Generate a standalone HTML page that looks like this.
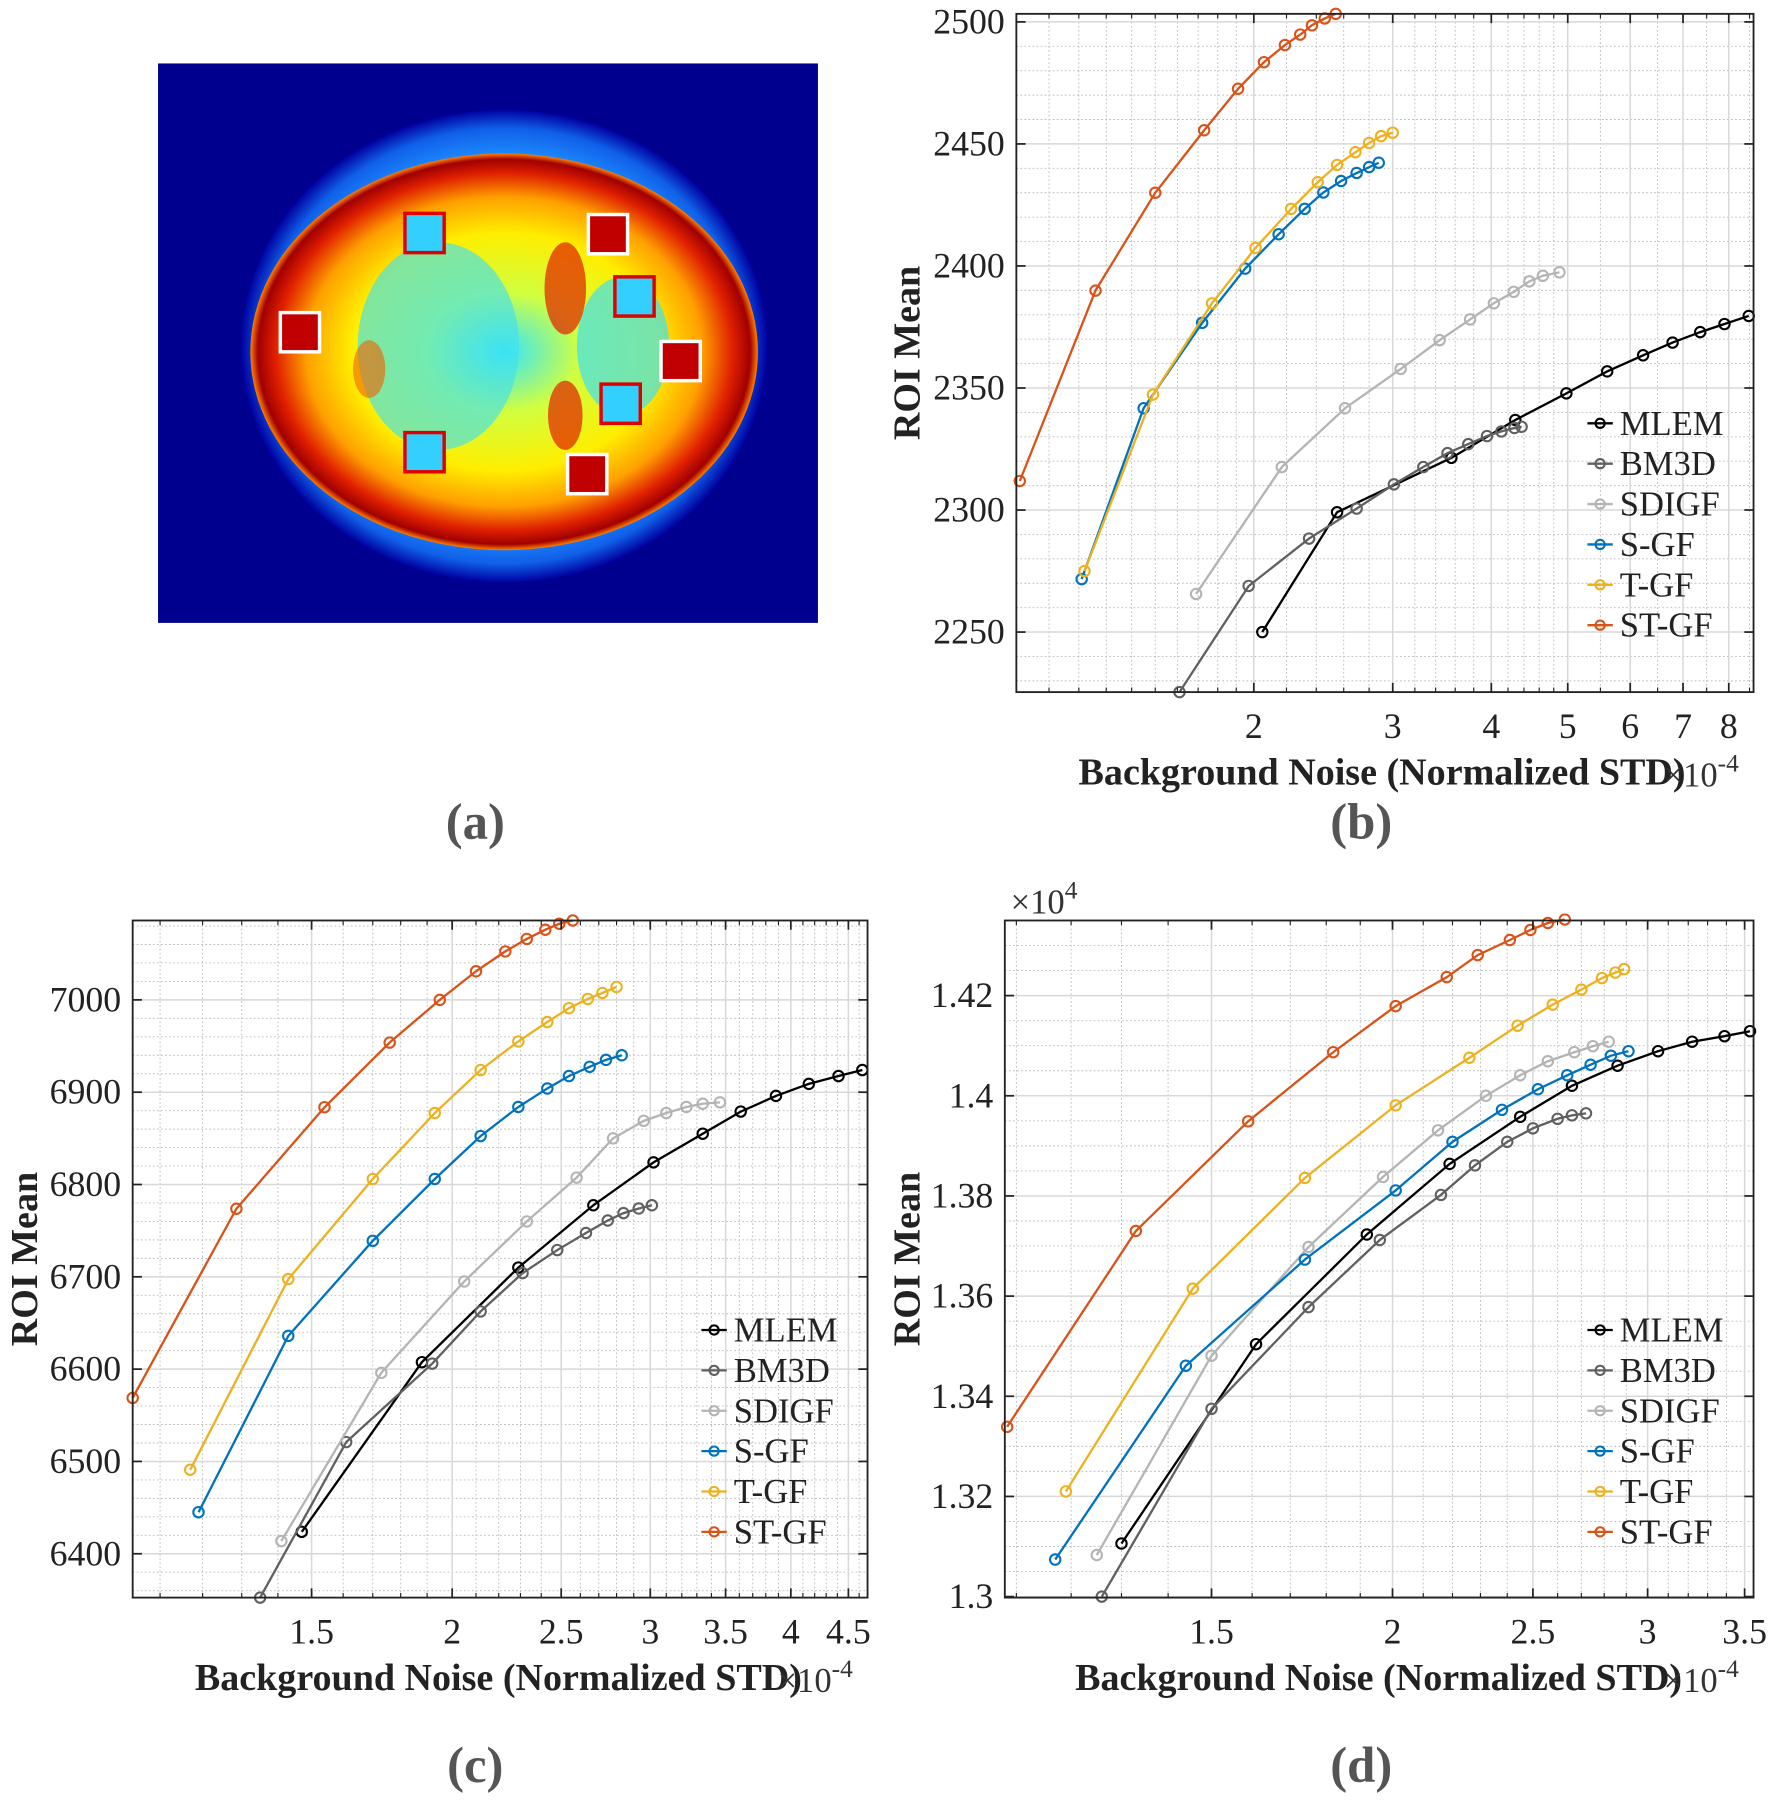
<!DOCTYPE html>
<html><head><meta charset="utf-8"><style>
html,body{margin:0;padding:0;background:#fff;}
svg{display:block;}
text{font-family:"Liberation Serif",serif;}
</style></head><body>
<svg id="fig" width="1772" height="1811" viewBox="0 0 1536 1570" preserveAspectRatio="none" xmlns="http://www.w3.org/2000/svg">
<defs>
<radialGradient id="halo" cx="50%" cy="50%" r="50%">
<stop offset="0.80" stop-color="#1e8cff"/><stop offset="0.92" stop-color="#1060e8"/><stop offset="1" stop-color="#0000a0"/>
</radialGradient>
<radialGradient id="brain" cx="50%" cy="50%" r="50%">
<stop offset="0" stop-color="#33e6ff"/><stop offset="0.3" stop-color="#d0ff40"/><stop offset="0.6" stop-color="#ffee00"/><stop offset="0.78" stop-color="#ffa000"/><stop offset="0.9" stop-color="#e02000"/><stop offset="0.97" stop-color="#a00000"/><stop offset="1" stop-color="#ff8000"/>
</radialGradient>
</defs>
<g id="panel-a">
<rect x="137" y="55" width="572" height="485" fill="#00008f"/>
<ellipse cx="437" cy="300" rx="228" ry="205" fill="url(#halo)"/>
<ellipse cx="437" cy="305" rx="220" ry="172" fill="url(#brain)"/>
<ellipse cx="380" cy="300" rx="70" ry="90" fill="#40e0f0" opacity="0.65"/>
<ellipse cx="540" cy="300" rx="40" ry="60" fill="#40e0f0" opacity="0.7"/>
<ellipse cx="490" cy="250" rx="18" ry="40" fill="#e02000" opacity="0.7"/>
<ellipse cx="490" cy="360" rx="15" ry="30" fill="#e02000" opacity="0.7"/>
<ellipse cx="320" cy="320" rx="14" ry="25" fill="#f06000" opacity="0.6"/>
<g fill="none" stroke-width="3">
<rect x="351" y="185" width="34" height="34" stroke="#e00000" fill="#33d0ff"/>
<rect x="533" y="240" width="34" height="34" stroke="#e00000" fill="#33d0ff"/>
<rect x="521" y="333" width="34" height="34" stroke="#e00000" fill="#33d0ff"/>
<rect x="351" y="375" width="34" height="34" stroke="#e00000" fill="#33d0ff"/>
<rect x="510" y="186" width="34" height="34" stroke="#fff" fill="#c00000"/>
<rect x="243" y="271" width="34" height="34" stroke="#fff" fill="#c00000"/>
<rect x="573" y="296" width="34" height="34" stroke="#fff" fill="#c00000"/>
<rect x="492" y="394" width="34" height="34" stroke="#fff" fill="#c00000"/>
</g>
</g>
<text x="412" y="727" font-size="44" font-weight="bold" fill="#555" text-anchor="middle">(a)</text>
<text x="1180" y="727" font-size="44" font-weight="bold" fill="#555" text-anchor="middle">(b)</text>
<text x="412" y="1545" font-size="44" font-weight="bold" fill="#555" text-anchor="middle">(c)</text>
<text x="1180" y="1545" font-size="44" font-weight="bold" fill="#555" text-anchor="middle">(d)</text>
</svg>
<script>
const seriesNames = ["MLEM","BM3D","SDIGF","S-GF","T-GF","ST-GF"];
const seriesColors = ["#000000","#606060","#b4b4b4","#0072BD","#EDB120","#D95319"];

// Panel (b)
const bMLEMx = [2.05,2.55,3.56,4.29,4.98,5.61,6.23,6.79,7.36,7.90,8.48];
const bMLEMy = [2250,2299.1,2321.4,2336.9,2347.8,2356.8,2363.4,2368.6,2372.9,2376.2,2379.5];
const bBM3Dx = [1.61,1.97,2.35,2.70,3.01,3.28,3.52,3.74,3.95,4.12,4.28,4.37];
const bBM3Dy = [2225.4,2268.9,2288.3,2300.6,2310.5,2317.6,2323.3,2327.0,2330.3,2332.2,2333.6,2334.1];
const bSDIGFx = [1.69,2.17,2.61,3.07,3.44,3.76,4.03,4.27,4.47,4.65,4.88];
const bSDIGFy = [2265.6,2317.6,2341.7,2357.8,2369.6,2378.1,2384.7,2389.4,2393.7,2396.0,2397.4];
const bSGFx = [1.21,1.45,1.72,1.95,2.15,2.32,2.45,2.58,2.70,2.80,2.88];
const bSGFy = [2271.7,2341.7,2376.7,2398.9,2413.0,2423.4,2430.1,2434.8,2438.1,2440.5,2442.3];
const bTGFx = [1.22,1.49,1.77,2.01,2.23,2.41,2.55,2.69,2.80,2.90,3.00];
const bTGFy = [2275.0,2347.3,2384.7,2407.4,2423.4,2434.3,2441.4,2446.6,2450.4,2453.2,2454.6];
const bSTGFx = [1.01,1.26,1.50,1.73,1.91,2.06,2.19,2.29,2.37,2.46,2.54];
const bSTGFy = [2311.9,2389.9,2430,2455.6,2472.6,2483.5,2490.5,2494.8,2498.6,2501.4,2503.3];
const bYTicks = [2250,2300,2350,2400,2450,2500];
const bXTicks = [2,3,4,5,6,7,8];

// Panel (c)
const cMLEMx = [1.47,1.88,2.29,2.67,3.02,3.34,3.61,3.88,4.15,4.41,4.63];
const cMLEMy = [6423.75,6607.5,6710,6777.5,6824,6855,6879,6896,6909,6917.5,6924];
const cBM3Dx = [1.35,1.61,1.92,2.12,2.31,2.48,2.63,2.75,2.84,2.93,3.01];
const cBM3Dy = [6352.5,6521,6606,6662.5,6704,6729,6747.5,6761,6769,6774,6777.5];
const cSDIGFx = [1.41,1.73,2.05,2.33,2.58,2.78,2.96,3.10,3.23,3.34,3.46];
const cSDIGFy = [6413.75,6596,6695,6760,6807.5,6850,6869,6877.5,6884,6887.5,6889];
const cSGFx = [1.19,1.43,1.70,1.93,2.12,2.29,2.43,2.54,2.65,2.74,2.83];
const cSGFy = [6445,6636,6739,6806,6852.5,6884,6904,6917.5,6927.5,6935,6940];
const cTGFx = [1.17,1.43,1.70,1.93,2.12,2.29,2.43,2.54,2.64,2.72,2.80];
const cTGFy = [6491,6697.5,6806,6877.5,6924,6955,6976,6991,7001,7007.5,7014];
const cSTGFx = [1.04,1.286,1.54,1.76,1.95,2.10,2.23,2.33,2.42,2.49,2.56];
const cSTGFy = [6568.75,6773.75,6883.75,6953.75,7000,7031,7052.5,7066,7076,7082.5,7086];
const cYTicks = [6400,6500,6600,6700,6800,6900,7000];
const cXTicks = [1.5,2,2.5,3,3.5,4,4.5];

// Panel (d)
const dMLEMx = [1.30,1.61,1.92,2.19,2.45,2.66,2.86,3.05,3.22,3.39,3.53];
const dMLEMy = [1.3106,1.3504,1.3723,1.3864,1.3958,1.4020,1.4060,1.4089,1.4108,1.4119,1.4129];
const dBM3Dx = [1.26,1.50,1.75,1.96,2.16,2.28,2.40,2.50,2.60,2.66,2.72];
const dBM3Dy = [1.3000,1.3375,1.3578,1.3712,1.3802,1.3861,1.3908,1.3935,1.3954,1.3961,1.3965];
const dSDIGFx = [1.25,1.50,1.75,1.97,2.15,2.32,2.45,2.56,2.67,2.75,2.82];
const dSDIGFy = [1.3083,1.3481,1.3698,1.3838,1.3931,1.4000,1.4041,1.4069,1.4087,1.4099,1.4108];
const dSGFx = [1.17,1.44,1.74,2.01,2.20,2.38,2.52,2.64,2.74,2.83,2.91];
const dSGFy = [1.3074,1.3461,1.3673,1.3811,1.3908,1.3972,1.4013,1.4041,1.4062,1.4080,1.4089];
const dTGFx = [1.19,1.456,1.74,2.01,2.26,2.44,2.58,2.70,2.79,2.85,2.89];
const dTGFy = [1.3210,1.3615,1.3836,1.3981,1.4076,1.4140,1.4182,1.4212,1.4235,1.4246,1.4253];
const dSTGFx = [1.084,1.33,1.59,1.82,2.01,2.18,2.29,2.41,2.49,2.56,2.63];
const dSTGFy = [1.3339,1.3730,1.3949,1.4087,1.4179,1.4237,1.4281,1.4311,1.4331,1.4345,1.4352];
const dYTicks = [1.30,1.32,1.34,1.36,1.38,1.40,1.42];
const dYTickLabels = ["1.3","1.32","1.34","1.36","1.38","1.4","1.42"];
const dXTicks = [1.5,2,2.5,3,3.5];

const NS = "http://www.w3.org/2000/svg";
const fig = document.getElementById('fig');
function mk(tag, attrs, parent){
  const e = document.createElementNS(NS, tag);
  for (const k in attrs) e.setAttribute(k, attrs[k]);
  (parent||fig).appendChild(e);
  return e;
}

function panel(cfg){
  const {id,L,T,R,B,xmin,xmax,ymin,ymax} = cfg;
  const g = mk('g',{});
  
  
  const lx0 = Math.log10(xmin), lx1 = Math.log10(xmax);
  const X = v => L + (Math.log10(v)-lx0)/(lx1-lx0)*(R-L);
  const Y = v => B - (v-ymin)/(ymax-ymin)*(B-T);
  for (const v of cfg.xMinor){ if (v<=xmin||v>=xmax) continue;
    const l = mk('line',{x1:X(v),x2:X(v),y1:T,y2:B,stroke:'#bbb','stroke-width':0.8,'stroke-dasharray':'1.5 2'},g);
    
    
  }
  for (let v=Math.ceil(ymin/cfg.yMinorStep)*cfg.yMinorStep; v<ymax; v+=cfg.yMinorStep){
    const l = mk('line',{x1:L,x2:R,y1:Y(v),y2:Y(v),stroke:'#bbb','stroke-width':0.8,'stroke-dasharray':'1.5 2'},g);
    
    
  }
  cfg.xTicks.forEach(v=>{
    const l = mk('line',{x1:X(v),x2:X(v),y1:T,y2:B,stroke:'#d8d8d8','stroke-width':1.3},g);
    
    
  });
  cfg.yTicks.forEach(v=>{
    const l = mk('line',{x1:L,x2:R,y1:Y(v),y2:Y(v),stroke:'#d8d8d8','stroke-width':1.3},g);
    
    
  });
  const clipId = 'clip-'+id;
  const cp = mk('clipPath',{id:clipId},g);
  mk('rect',{x:L-6,y:T-6,width:R-L+12,height:B-T+12},cp);
  const sg = mk('g',{'clip-path':'url(#'+clipId+')'},g);
  
  
  cfg.series.forEach((s,i)=>{
    const xs=s[0], ys=s[1];
    const pts = xs.map((x,j)=>X(x).toFixed(1)+','+Y(ys[j]).toFixed(1)).join(' ');
    const pl = mk('polyline',{points:pts,fill:'none',stroke:seriesColors[i],'stroke-width':2},sg);
    
    
    xs.forEach((x,j)=>{
      const c = mk('circle',{cx:X(x),cy:Y(ys[j]),r:4.5,fill:'none',stroke:seriesColors[i],'stroke-width':1.8},sg);
      
      
    });
  });
  const bx = mk('rect',{x:L,y:T,width:R-L,height:B-T,fill:'none',stroke:'#222','stroke-width':1.6},g);
  
  
  cfg.xTicks.forEach((v,i)=>{
    mk('line',{x1:X(v),x2:X(v),y1:B,y2:B-8,stroke:'#222','stroke-width':1.5},g);
    mk('line',{x1:X(v),x2:X(v),y1:T,y2:T+8,stroke:'#222','stroke-width':1.5},g);
    const t = mk('text',{x:X(v),y:B+40,'font-size':31,'text-anchor':'middle',fill:'#222'},g);
    t.textContent = cfg.xTickLabels ? cfg.xTickLabels[i] : String(v);
    
    
  });
  for (const v of cfg.xMinor){ if (v<=xmin||v>=xmax) continue;
    mk('line',{x1:X(v),x2:X(v),y1:B,y2:B-4,stroke:'#222','stroke-width':1},g);
    mk('line',{x1:X(v),x2:X(v),y1:T,y2:T+4,stroke:'#222','stroke-width':1},g);
  }
  cfg.yTicks.forEach((v,i)=>{
    mk('line',{x1:L,x2:L+8,y1:Y(v),y2:Y(v),stroke:'#222','stroke-width':1.5},g);
    mk('line',{x1:R,x2:R-8,y1:Y(v),y2:Y(v),stroke:'#222','stroke-width':1.5},g);
    const t = mk('text',{x:L-10,y:Y(v)+10,'font-size':31,'text-anchor':'end',fill:'#222'},g);
    t.textContent = cfg.yTickLabels ? cfg.yTickLabels[i] : String(v);
    
    
  });
  const xl = mk('text',{x:cfg.xLabelX,y:B+80,'font-size':33,'font-weight':'bold','text-anchor':'middle',fill:'#222'},g);
  xl.textContent = 'Background Noise (Normalized STD)';
  
  
  const xm = mk('text',{x:R-78,y:B+82,'font-size':30,fill:'#333'},g);
  xm.innerHTML = '×10<tspan dy="-13" font-size="22">-4</tspan>';
  
  
  const yl = mk('text',{x:0,y:0,'font-size':33,'font-weight':'bold','text-anchor':'middle',fill:'#222',transform:'translate('+cfg.yLabelX+','+((T+B)/2)+') rotate(-90)'},g);
  yl.textContent = 'ROI Mean';
  
  
  const lg = mk('g',{},g);
  
  
  seriesNames.forEach((n,i)=>{
    const y = cfg.legY + i*35;
    const e = mk('g',{},lg);
    
    
    mk('line',{x1:cfg.legX,x2:cfg.legX+22,y1:y,y2:y,stroke:seriesColors[i],'stroke-width':2},e);
    mk('circle',{cx:cfg.legX+11,cy:y,r:4,fill:'none',stroke:seriesColors[i],'stroke-width':1.8},e);
    const t = mk('text',{x:cfg.legX+28,y:y+10,'font-size':30,fill:'#222'},e);
    t.textContent = n;
  });
}

function range(a,b,s){const r=[];for(let v=a;v<=b+1e-9;v+=s)r.push(+v.toFixed(3));return r;}

panel({id:'panel-b',L:881,T:12,R:1520,B:600,xmin:1.0,xmax:8.6,ymin:2225.4,ymax:2503.3,
  xTicks:bXTicks,yTicks:bYTicks,xMinor:range(1.1,2,0.1).concat(range(2.2,5,0.2),range(5.5,8.5,0.5)),yMinorStep:10,
  series:[[bMLEMx,bMLEMy],[bBM3Dx,bBM3Dy],[bSDIGFx,bSDIGFy],[bSGFx,bSGFy],[bTGFx,bTGFy],[bSTGFx,bSTGFy]],
  xLabelX:1198,yLabelX:797,legX:1376,legY:367});
panel({id:'panel-c',L:115,T:798,R:752,B:1385,xmin:1.04,xmax:4.68,ymin:6352.5,ymax:7086,
  xTicks:cXTicks,yTicks:cYTicks,xMinor:range(1.1,4.6,0.1),yMinorStep:20,
  series:[[cMLEMx,cMLEMy],[cBM3Dx,cBM3Dy],[cSDIGFx,cSDIGFy],[cSGFx,cSGFy],[cTGFx,cTGFy],[cSTGFx,cSTGFy]],
  xLabelX:432,yLabelX:32,legX:608,legY:1153});
panel({id:'panel-d',L:871,T:798,R:1520,B:1385,xmin:1.08,xmax:3.55,ymin:1.2998,ymax:1.435,
  xTicks:dXTicks,yTicks:dYTicks,yTickLabels:dYTickLabels,xMinor:range(1.1,3.5,0.1),yMinorStep:0.005,
  series:[[dMLEMx,dMLEMy],[dBM3Dx,dBM3Dy],[dSDIGFx,dSDIGFy],[dSGFx,dSGFy],[dTGFx,dTGFy],[dSTGFx,dSTGFy]],
  xLabelX:1195,yLabelX:797,legX:1376,legY:1153});
const ym = mk('text',{x:876,y:792,'font-size':30,fill:'#333'});
ym.innerHTML = '×10<tspan dy="-13" font-size="22">4</tspan>';


</script>
</body></html>
